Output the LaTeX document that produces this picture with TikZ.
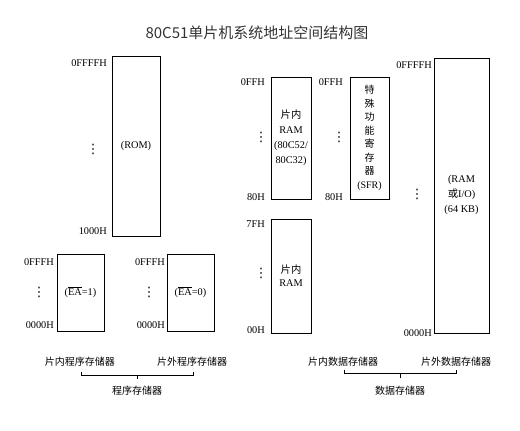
\documentclass[tikz,border=0pt]{standalone}
\usepackage{fontspec}
\setmainfont{Liberation Serif}
\newfontfamily\cjk{Noto Sans CJK SC}
\newfontfamily\symb{DejaVu Sans}

\begin{document}
\begin{tikzpicture}[x=1pt, y=-1pt,
        mem/.style={draw, line width=1pt, inner sep=0pt, align=center, font=\fontsize{10.3}{15}\selectfont},
        addr/.style={anchor=east, inner sep=0pt, font=\fontsize{10.3}{12}\selectfont},
        vdot/.style={inner sep=0pt, font=\symb\fontsize{13}{14}\selectfont},
        zh/.style={inner sep=0pt, font=\cjk\fontsize{10}{12}\selectfont},
        brace/.style={line width=0.9pt}]
        \useasboundingbox (0,0) rectangle (520,431);

        \node[inner sep=0pt, text=black!80, font=\cjk\fontsize{15}{18}\selectfont] (title) at (257,33) {80C51单片机系统地址空间结构图};

        % program memory
        \node[mem, minimum width=48pt, minimum height=180pt] (rom) at (136,146) {(ROM)};
        \node[addr] (romtop) at (107,63) {0FFFFH};
        \node[addr] (rombot) at (107,231) {1000H};
        \node[vdot] (romdots) at (93,149) {⋮};

        \node[mem, minimum width=47pt, minimum height=77pt] (ea1) at (80.5,292.5) {($\overline{\mbox{EA}}$=1)};
        \node[addr] (ea1top) at (54,262) {0FFFH};
        \node[addr] (ea1bot) at (54,325) {0000H};
        \node[vdot] (ea1dots) at (39,292) {⋮};

        \node[mem, minimum width=47pt, minimum height=77pt] (ea0) at (190.5,292.5) {($\overline{\mbox{EA}}$=0)};
        \node[addr] (ea0top) at (165,262) {0FFFH};
        \node[addr] (ea0bot) at (165,325) {0000H};
        \node[vdot] (ea0dots) at (149,292) {⋮};

        \node[zh] (pin) at (80,362) {片内程序存储器};
        \node[zh] (pex) at (192,362) {片外程序存储器};
        \node[zh] (prog) at (137,391) {程序存储器};
        \coordinate (pl) at (81,375);
        \coordinate (pr) at (193,375);
        \coordinate (pm) at (137,375);
        \draw[brace] (pl) ++(0,-3) -- (pl) -- (pr) -- ++(0,-3);
        \draw[brace] (pm) -- ++(0,4);

        % data memory
        \node[mem, minimum width=40pt, minimum height=122pt] (ramhi) at (291,138) {{\cjk 片内}\\RAM\\(80C52/\\80C32)};
        \node[addr] (ramhitop) at (265,82) {0FFH};
        \node[addr] (ramhibot) at (265,197) {80H};
        \node[vdot] (ramhidots) at (261,137) {⋮};

        \node[mem, minimum width=39pt, minimum height=122pt, font=\cjk\fontsize{10}{13.5}\selectfont] (sfr) at (369.5,138) {特\\殊\\功\\能\\寄\\存\\器\\{\rmfamily (SFR)}};
        \node[addr] (sfrtop) at (343,82) {0FFH};
        \node[addr] (sfrbot) at (343,197) {80H};
        \node[vdot] (sfrdots) at (339,137) {⋮};

        \node[mem, minimum width=40pt, minimum height=114pt, font=\fontsize{10.3}{13}\selectfont] (ramlo) at (291,276) {{\cjk 片内}\\RAM};
        \node[addr] (ramlotop) at (265,224) {7FH};
        \node[addr] (ramlobot) at (265,330) {00H};
        \node[vdot] (ramlodots) at (261,273) {⋮};

        \node[mem, minimum width=55pt, minimum height=275pt] (xram) at (461.5,195.5) {(RAM\\{\cjk 或}I/O)\\(64 KB)};
        \node[addr] (xramtop) at (432,65) {0FFFFH};
        \node[addr] (xrambot) at (432,333) {0000H};
        \node[vdot] (xramdots) at (417,194) {⋮};

        \node[zh] (din) at (343,362) {片内数据存储器};
        \node[zh] (dex) at (456,362) {片外数据存储器};
        \node[zh] (data) at (400,391) {数据存储器};
        \coordinate (dl) at (344,373);
        \coordinate (dr) at (456,373);
        \coordinate (dm) at (400,373);
        \draw[brace] (dl) ++(0,-3) -- (dl) -- (dr) -- ++(0,-3);
        \draw[brace] (dm) -- ++(0,5);
\end{tikzpicture}
\end{document}
